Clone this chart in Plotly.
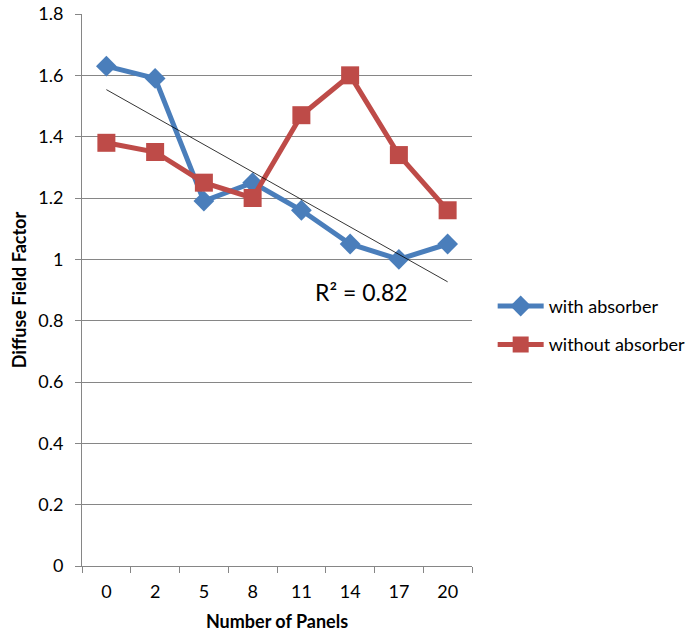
import numpy as np
import plotly.graph_objects as go

categories = ["0", "2", "5", "8", "11", "14", "17", "20"]
with_absorber = [1.63, 1.59, 1.19, 1.25, 1.16, 1.05, 1.00, 1.05]
without_absorber = [1.38, 1.35, 1.25, 1.20, 1.47, 1.60, 1.34, 1.16]
r2_label = "R² = 0.82"

# linear trendline of "with absorber" over category index
idx = np.arange(1, len(categories) + 1)
slope, intercept = np.polyfit(idx, with_absorber, 1)
trend = (slope * idx + intercept).tolist()

blue = "#4A7EBB"
red = "#BE4B48"
grid = "#868686"
font = "Lato"

fig = go.Figure()
fig.add_trace(go.Scatter(
    x=categories, y=with_absorber, name="with absorber", mode="lines+markers",
    legendgroup="a",
    line=dict(color=blue, width=5),
    marker=dict(symbol="diamond", size=16, color=blue),
))
fig.add_trace(go.Scatter(
    x=categories, y=without_absorber, name="without absorber", mode="lines+markers",
    legendgroup="b",
    line=dict(color=red, width=5),
    marker=dict(symbol="square", size=18, color=red),
))
fig.add_trace(go.Scatter(
    x=categories, y=trend, mode="lines", showlegend=False,
    line=dict(color="black", width=0.8), hoverinfo="skip",
))

fig.add_annotation(
    x=5.24, y=0.895, xref="x", yref="y", text=r2_label, showarrow=False,
    font=dict(family=font, size=23, color="black"), xanchor="center", yanchor="middle",
)

fig.update_layout(
    width=694, height=637,
    margin=dict(l=82, r=222, t=14, b=71, autoexpand=False),
    paper_bgcolor="white", plot_bgcolor="white",
    font=dict(family=font, size=18, color="black"),
    legend=dict(
        x=1.053, y=0.504, xanchor="left", yanchor="top",
        font=dict(family=font, size=18, color="black"),
        itemwidth=46, tracegroupgap=12, traceorder="grouped",
        bgcolor="rgba(0,0,0,0)",
    ),
    showlegend=True,
)
fig.update_xaxes(
    type="category", range=[-0.5, 7.5],
    showline=True, linecolor=grid, linewidth=1,
    ticks="outside", ticklen=6, tickcolor=grid, tickson="boundaries",
    showgrid=False, zeroline=False, ticklabelstandoff=9,
    tickfont=dict(family=font, size=18),
    title=dict(text="<b>Number of Panels</b>", font=dict(family=font, size=18), standoff=14),
    automargin=False,
)
fig.update_yaxes(
    range=[0, 1.8], dtick=0.2, tick0=0,
    showline=True, linecolor=grid, linewidth=1,
    ticks="outside", ticklen=6, tickcolor=grid,
    showgrid=True, gridcolor=grid, gridwidth=1, zeroline=False, ticklabelstandoff=8,
    tickfont=dict(family=font, size=18),
    title=dict(text="<b>Diffuse Field Factor</b>", font=dict(family=font, size=18), standoff=6),
    automargin=False,
)

fig.write_html("out.html")
